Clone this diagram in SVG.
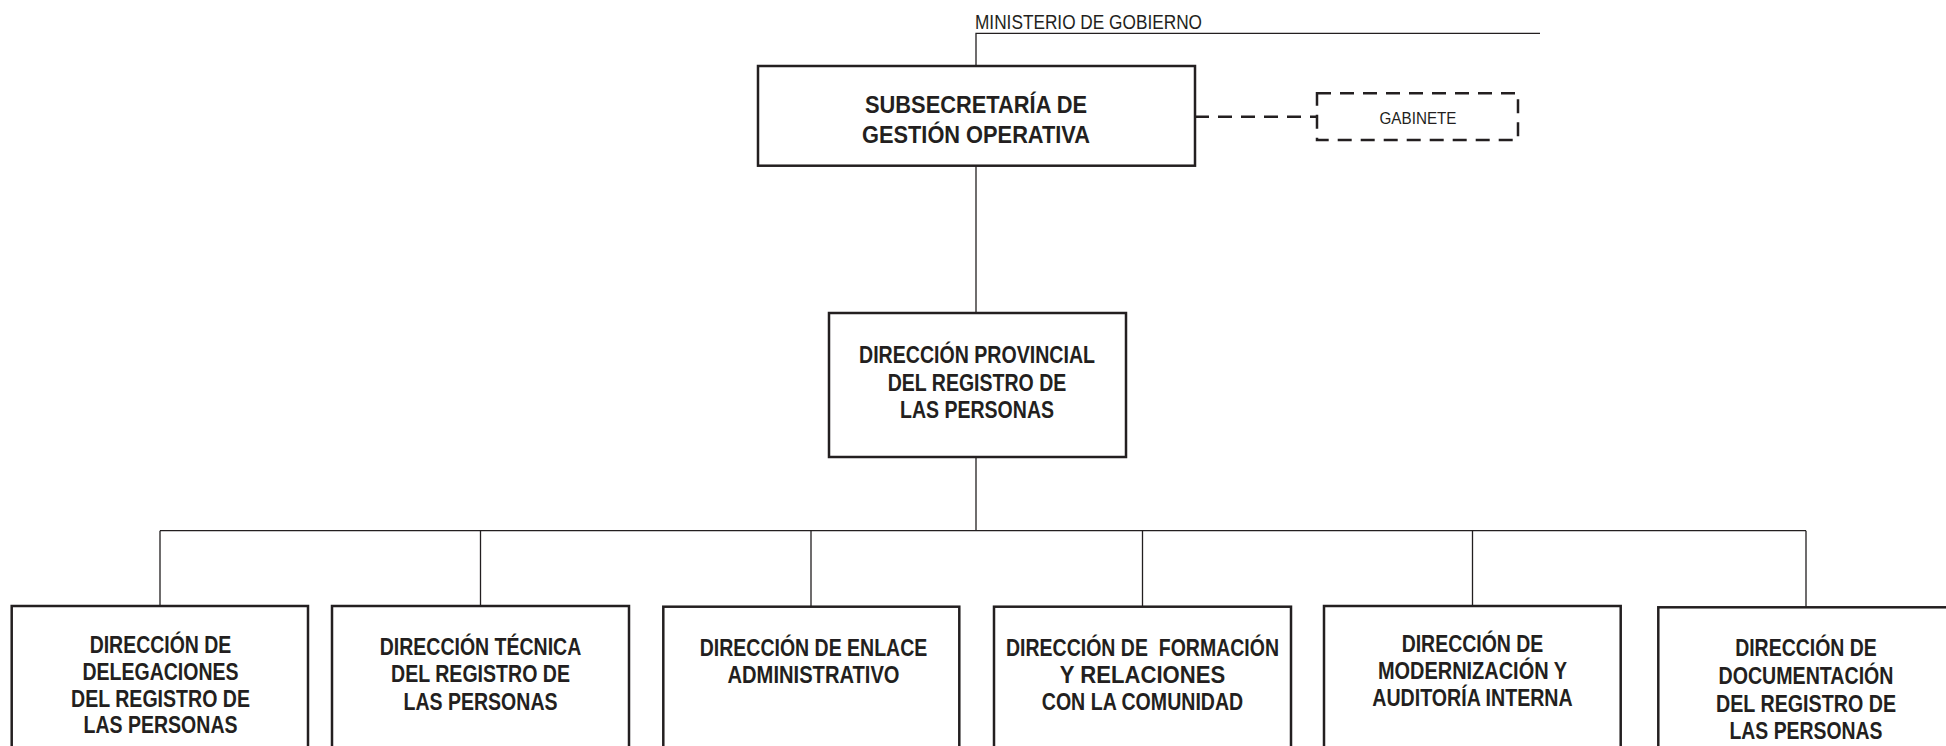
<svg xmlns="http://www.w3.org/2000/svg" width="1946" height="746" viewBox="0 0 1946 746">
<style>
.bx{fill:#fff;stroke:#231f20;stroke-width:2.5}
.dbx{fill:#fff;stroke:#231f20;stroke-width:2.5;stroke-dasharray:14 9}
.ln{fill:none;stroke:#231f20;stroke-width:1.3}
.dln{fill:none;stroke:#231f20;stroke-width:2.5;stroke-dasharray:14 9}
.t{font-family:"Liberation Sans",Arial,sans-serif;font-weight:bold;font-size:23px;fill:#231f20;text-anchor:middle}
.tn{font-family:"Liberation Sans",Arial,sans-serif;font-size:20px;fill:#231f20}
</style>
<rect width="1946" height="746" fill="#fff"/>
<g id="connectors">
<path class="ln" d="M976,66 V33.3 H1540"/>
<path class="ln" d="M976,165.7 V313"/>
<path class="ln" d="M976,457 V530.7"/>
<path class="ln" d="M160,530.7 H1806"/>
<path class="ln" d="M160,530.7 V606 M480.5,530.7 V606 M811,530.7 V606 M1142.5,530.7 V606 M1472.5,530.7 V606 M1806,530.7 V607"/>
<path class="dln" d="M1195,116.7 H1317"/>
</g>
<g id="ministerio">
<text class="tn" x="975" y="29.3" textLength="227" lengthAdjust="spacingAndGlyphs">MINISTERIO DE GOBIERNO</text>
</g>
<g id="subsecretaria">
<rect class="bx" x="758" y="66" width="437" height="99.7"/>
<text class="t" x="976" y="113.3" textLength="222" lengthAdjust="spacingAndGlyphs">SUBSECRETARÍA DE</text>
<text class="t" x="976" y="143.3" textLength="228" lengthAdjust="spacingAndGlyphs">GESTIÓN OPERATIVA</text>
</g>
<g id="gabinete">
<rect class="dbx" x="1317" y="93.3" width="201" height="46.7"/>
<text class="tn" x="1418" y="124" font-size="17" text-anchor="middle" style="font-size:17px" textLength="77" lengthAdjust="spacingAndGlyphs">GABINETE</text>
</g>
<g id="provincial">
<rect class="bx" x="829" y="313" width="297" height="144"/>
<text class="t" x="977" y="362.7" textLength="236" lengthAdjust="spacingAndGlyphs">DIRECCIÓN PROVINCIAL</text>
<text class="t" x="977" y="390.7" textLength="178.5" lengthAdjust="spacingAndGlyphs">DEL REGISTRO DE</text>
<text class="t" x="977" y="417.7" textLength="154" lengthAdjust="spacingAndGlyphs">LAS PERSONAS</text>
</g>
<g id="delegaciones">
<rect class="bx" x="11.7" y="606" width="296.3" height="160"/>
<text class="t" x="160.5" y="653.3" textLength="141.7" lengthAdjust="spacingAndGlyphs">DIRECCIÓN DE</text>
<text class="t" x="160.5" y="680" textLength="156" lengthAdjust="spacingAndGlyphs">DELEGACIONES</text>
<text class="t" x="160.5" y="706.7" textLength="179" lengthAdjust="spacingAndGlyphs">DEL REGISTRO DE</text>
<text class="t" x="160.5" y="733.3" textLength="154" lengthAdjust="spacingAndGlyphs">LAS PERSONAS</text>
</g>
<g id="tecnica">
<rect class="bx" x="332" y="606" width="297" height="160"/>
<text class="t" x="480.5" y="654.5" textLength="201.5" lengthAdjust="spacingAndGlyphs">DIRECCIÓN TÉCNICA</text>
<text class="t" x="480.5" y="682" textLength="179" lengthAdjust="spacingAndGlyphs">DEL REGISTRO DE</text>
<text class="t" x="480.5" y="709.5" textLength="154" lengthAdjust="spacingAndGlyphs">LAS PERSONAS</text>
</g>
<g id="enlace">
<rect class="bx" x="663.3" y="606.7" width="296" height="160"/>
<text class="t" x="813.5" y="655.7" textLength="227.5" lengthAdjust="spacingAndGlyphs">DIRECCIÓN DE ENLACE</text>
<text class="t" x="813.5" y="682.7" textLength="172" lengthAdjust="spacingAndGlyphs">ADMINISTRATIVO</text>
</g>
<g id="formacion">
<rect class="bx" x="994" y="606.7" width="297" height="160"/>
<text class="t" x="1142.5" y="655.7" textLength="273" lengthAdjust="spacingAndGlyphs" xml:space="preserve">DIRECCIÓN DE  FORMACIÓN</text>
<text class="t" x="1142.5" y="682.7" textLength="165.3" lengthAdjust="spacingAndGlyphs">Y RELACIONES</text>
<text class="t" x="1142.5" y="709.7" textLength="201.5" lengthAdjust="spacingAndGlyphs">CON LA COMUNIDAD</text>
</g>
<g id="modernizacion">
<rect class="bx" x="1324" y="606" width="296.7" height="160"/>
<text class="t" x="1472.5" y="651.7" textLength="141.7" lengthAdjust="spacingAndGlyphs">DIRECCIÓN DE</text>
<text class="t" x="1472.5" y="679.3" textLength="189.2" lengthAdjust="spacingAndGlyphs">MODERNIZACIÓN Y</text>
<text class="t" x="1472.5" y="706" textLength="200.4" lengthAdjust="spacingAndGlyphs">AUDITORÍA INTERNA</text>
</g>
<g id="documentacion">
<rect class="bx" x="1658.3" y="607.3" width="296" height="160"/>
<text class="t" x="1806" y="656" textLength="141.7" lengthAdjust="spacingAndGlyphs">DIRECCIÓN DE</text>
<text class="t" x="1806" y="684.3" textLength="175" lengthAdjust="spacingAndGlyphs">DOCUMENTACIÓN</text>
<text class="t" x="1806" y="711.7" textLength="180" lengthAdjust="spacingAndGlyphs">DEL REGISTRO DE</text>
<text class="t" x="1806" y="739" textLength="153" lengthAdjust="spacingAndGlyphs">LAS PERSONAS</text>
</g>
</svg>
